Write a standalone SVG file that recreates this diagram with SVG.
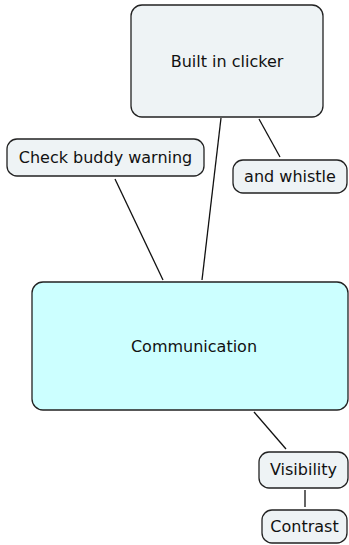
<svg xmlns="http://www.w3.org/2000/svg" width="349" height="545" viewBox="0 0 349 545">
  <style>
    .box { fill: #eef3f5; stroke: #222; stroke-width: 1.3; }
    .main { fill: #ccffff; stroke: #222; stroke-width: 1.3; }
    .label { font-family: "DejaVu Sans", Verdana, sans-serif; font-size: 16px; fill: #111; text-anchor: middle; dominant-baseline: central; }
    .link { stroke: #111; stroke-width: 1.3; fill: none; }
  </style>
  <rect width="349" height="545" fill="#ffffff"/>

  <g id="connectors">
    <line class="link" x1="221" y1="118" x2="202" y2="280"/>
    <line class="link" x1="259" y1="119" x2="280" y2="157"/>
    <line class="link" x1="115" y1="179" x2="163" y2="280"/>
    <line class="link" x1="254" y1="412" x2="286" y2="449"/>
    <line class="link" x1="305" y1="490" x2="305" y2="507"/>
  </g>

  <g id="built-in-clicker">
    <rect class="box" x="131" y="5" width="192" height="112" rx="11"/>
    <text class="label" x="227" y="61">Built in clicker</text>
  </g>

  <g id="check-buddy-warning">
    <rect class="box" x="7" y="139" width="197" height="37" rx="10"/>
    <text class="label" x="105.5" y="157.5">Check buddy warning</text>
  </g>

  <g id="and-whistle">
    <rect class="box" x="233" y="160" width="114" height="33" rx="10"/>
    <text class="label" x="290" y="176.5">and whistle</text>
  </g>

  <g id="communication">
    <rect class="main" x="32" y="282" width="316" height="128" rx="11"/>
    <text class="label" x="194" y="346">Communication</text>
  </g>

  <g id="visibility">
    <rect class="box" x="259" y="452" width="89" height="36" rx="10"/>
    <text class="label" x="303.5" y="469">Visibility</text>
  </g>

  <g id="contrast">
    <rect class="box" x="262" y="510" width="85" height="33" rx="10"/>
    <text class="label" x="304.5" y="526">Contrast</text>
  </g>
</svg>
